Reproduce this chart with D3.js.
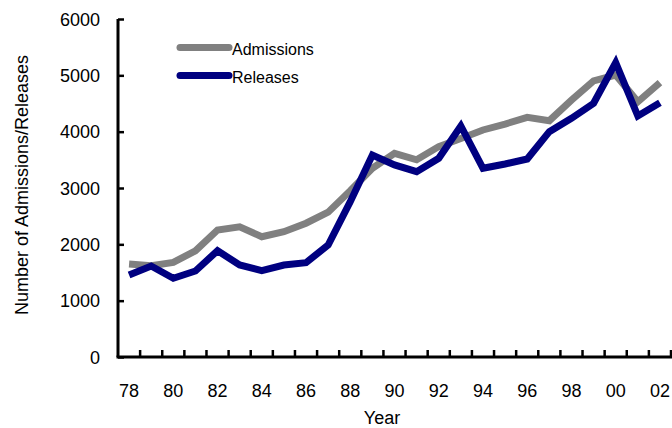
<!DOCTYPE html>
<html>
<head>
<meta charset="utf-8">
<script src="https://cdn.jsdelivr.net/npm/d3@7"></script>
<style>
  html, body { margin: 0; padding: 0; background: #fff; }
  svg { display: block; }
  text { font-family: "Liberation Sans", Arial, sans-serif; fill: #000; }
</style>
</head>
<body>
<svg id="chart" width="672" height="428"></svg>
<script>
const years = ["78","79","80","81","82","83","84","85","86","87","88","89","90","91","92","93","94","95","96","97","98","99","00","01","02"];
const admissions = [1650,1620,1680,1885,2255,2310,2135,2225,2375,2570,2950,3350,3615,3500,3735,3880,4030,4135,4255,4195,4560,4900,5005,4530,4870];
const releases = [1456,1615,1397,1527,1887,1633,1532,1633,1674,1988,2757,3586,3410,3290,3527,4101,3350,3426,3515,4000,4237,4504,5225,4278,4515];
const yTicks = [0,1000,2000,3000,4000,5000,6000];
const seriesNames = ["Admissions","Releases"];
const seriesColors = ["#808080","#000080"];

const svg = d3.select("#chart");
const mLeft = 118, mRight = 671, mTop = 19, mBottom = 357;

const x = d3.scaleBand().domain(years).range([mLeft, mRight]).padding(0);
const y = d3.scaleLinear().domain([0, 6000]).range([mBottom, mTop]);
const cx = d => x(d) + x.bandwidth() / 2;

// Lines
const line = d3.line().x((d, i) => cx(years[i])).y(d => y(d));
[admissions, releases].forEach((s, k) => {
  svg.append("path").datum(s)
    .attr("d", line)
    .attr("fill", "none")
    .attr("stroke", seriesColors[k])
    .attr("stroke-width", 7)
    .attr("stroke-linejoin", "miter")
    .attr("stroke-linecap", "butt");
});

// Y axis
const yAxis = d3.axisLeft(y).tickValues(yTicks).tickSize(-6).tickPadding(18).tickFormat(d3.format("d"));
const gy = svg.append("g").attr("transform", `translate(${mLeft},0)`).call(yAxis);
gy.select(".domain").attr("stroke-width", 3).attr("d", `M0,${mTop}V${mBottom}`);
gy.selectAll(".tick line").attr("stroke-width", 2.5);
gy.selectAll(".tick text").attr("font-size", 18).attr("font-family", "Liberation Sans, Arial, sans-serif").attr("dy", "0.35em");

// X axis
const gx = svg.append("g").attr("transform", `translate(0,${mBottom})`);
gx.append("line").attr("x1", mLeft - 1.5).attr("x2", mRight + 1).attr("y1", 0).attr("y2", 0)
  .attr("stroke", "#000").attr("stroke-width", 3);
years.forEach((yr, i) => {
  const bx = x(yr) + x.bandwidth();
  gx.append("line").attr("x1", bx).attr("x2", bx).attr("y1", 0).attr("y2", -7)
    .attr("stroke", "#000").attr("stroke-width", 2.5);
  if (i % 2 === 0) {
    gx.append("text").attr("x", cx(yr)).attr("y", 34).attr("dy", "0.35em")
      .attr("text-anchor", "middle").attr("font-size", 18).text(yr);
  }
});

// Axis titles
svg.append("text").attr("x", 382).attr("y", 418).attr("dy", "0.35em")
  .attr("text-anchor", "middle").attr("font-size", 18).text("Year");
svg.append("text").attr("transform", "translate(22,185) rotate(-90)")
  .attr("dy", "0.35em").attr("text-anchor", "middle").attr("font-size", 18)
  .text("Number of Admissions/Releases");

// Legend
seriesNames.forEach((n, k) => {
  const ly = 47.5 + k * 28;
  svg.append("line").attr("x1", 180).attr("x2", 229).attr("y1", ly).attr("y2", ly)
    .attr("stroke", seriesColors[k]).attr("stroke-width", 7).attr("stroke-linecap", "round");
  svg.append("text").attr("x", 232).attr("y", ly + 2).attr("dy", "0.35em")
    .attr("font-size", 16).text(n);
});
</script>
</body>
</html>
